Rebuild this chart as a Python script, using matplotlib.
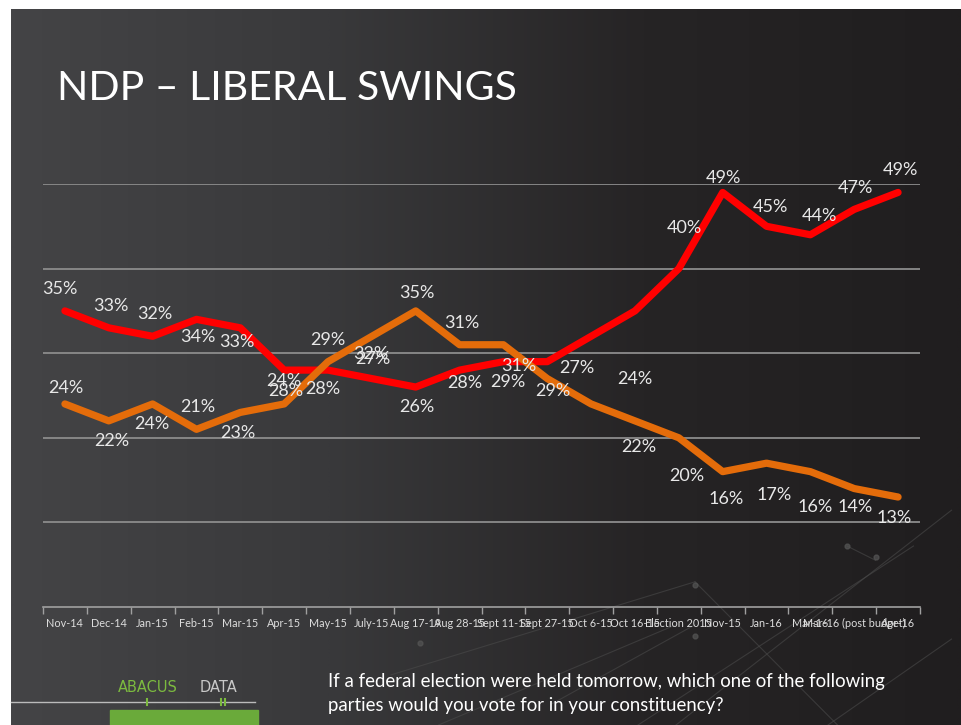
import numpy as np
import matplotlib.pyplot as plt
from matplotlib.colors import LinearSegmentedColormap

# data
categories = ['Nov-14', 'Dec-14', 'Jan-15', 'Feb-15', 'Mar-15', 'Apr-15', 'May-15',
              'July-15', 'Aug 17-19', 'Aug 28-15', 'Sept 11-15', 'Sept 27-15',
              'Oct 6-15', 'Oct 16-15', 'Election 2015', 'Nov-15', 'Jan-16',
              'Mar-16', 'Mar-16 (post budget)', 'Apr-16']
liberal = [35, 33, 32, 34, 33, 28, 28, 27, 26, 28, 29, 29, 32, 35, 40, 49, 45, 44, 47, 49]
ndp = [24, 22, 24, 21, 23, 24, 29, 32, 35, 31, 31, 27, 24, 22, 20, 16, 17, 16, 14, 13]

# label offsets in pixels (dx, dy upward), None = no label
lib_off = [(-5, 22), (2, 22), (2, 22), (1, -18), (-3, -14), (2, -21), (-5, -19),
           (1, 20), (1, -20), (5, -13), (4, -20), (6, -29), None, None,
           (6, 41), (1, 14), (4, 19), (9, 19), (1, 21), (2, 22)]
ndp_off = [(1, 16), (3, -20), (-1, -20), (1, 22), (-2, -21), (0, 23), (0, 22),
           (-1, -18), (1, 18), (2, 22), (15, -21), (30, 11), (44, 25), (4, -26),
           (8, -38), (3, -27), (8, -32), (5, -35), (1, -18), (-4, -21)]

W, H = 961, 725
fig = plt.figure(figsize=(W / 100, H / 100), dpi=100)
fig.patch.set_facecolor('white')

# slide background
bg = fig.add_axes([11 / W, 0, 1 - 11 / W, 1 - 9 / H])
bg.set_axis_off()
grad = np.linspace(0, 1, 400)[None, :] * np.ones((50, 1))
cmap = LinearSegmentedColormap.from_list('bg', ['#444446', '#39393b', '#262425', '#201e1f'])
bg.imshow(grad, cmap=cmap, aspect='auto', extent=[0, 1, 0, 1])
bg.set_xlim(0, 1)
bg.set_ylim(0, 1)
# faint network decoration
deco = [((0.66, 0.0), (0.95, 0.25)), ((0.70, 0.0), (0.99, 0.30)), ((0.86, 0.0), (0.99, 0.12)),
        ((0.40, 0.07), (0.72, 0.20)), ((0.72, 0.20), (0.87, 0.0)), ((0.57, 0.03), (0.72, 0.14)),
        ((0.88, 0.25), (0.91, 0.23)), ((0.45, 0.0), (0.70, 0.14))]
for (x0, y0), (x1, y1) in deco:
    bg.plot([x0, x1], [y0, y1], color='#4a4a4a', lw=0.8, alpha=0.6)
for px, py in [(0.88, 0.25), (0.91, 0.235), (0.72, 0.195), (0.72, 0.125), (0.43, 0.115)]:
    bg.plot(px, py, 'o', color='#555555', ms=3.5, alpha=0.7)

fig.text(57 / W, 1 - 89 / H, 'NDP \u2013 LIBERAL SWINGS', color='white',
         fontsize=29.5, family=['Liberation Sans Narrow', 'Lato'], va='center', ha='left')

ax = fig.add_axes([43 / W, 1 - 607 / H, (920 - 43) / W, (607 - 184) / H])
ax.set_facecolor('none')
x = np.arange(len(categories))
ax.set_xlim(-0.5, len(categories) - 0.5)
ax.set_ylim(0, 50)
ax.set_yticks([10, 20, 30, 40, 50])
ax.yaxis.grid(True, color='#8c8c8c', lw=1.3)
ax.set_axisbelow(True)
ax.tick_params(axis='y', left=False, labelleft=False)
for s in ['top', 'right', 'left']:
    ax.spines[s].set_visible(False)
ax.spines['bottom'].set_color('#a0a0a0')
ax.spines['bottom'].set_linewidth(1.2)

ax.set_xticks(x)
ax.set_xticklabels(categories, color='#dddddd', fontsize=7.8, family='Lato')
ax.set_xticks(np.arange(-0.5, len(categories)), minor=True)
ax.tick_params(axis='x', which='major', length=0, pad=8)
ax.tick_params(axis='x', which='minor', length=5, color='#a0a0a0', width=1)

ax.plot(x, liberal, color='#ff0000', lw=5.2, solid_joinstyle='round', solid_capstyle='round', zorder=3)
ax.plot(x, ndp, color='#e46c0a', lw=5.2, solid_joinstyle='round', solid_capstyle='round', zorder=3)

for vals, offs in [(liberal, lib_off), (ndp, ndp_off)]:
    for i, v in enumerate(vals):
        if offs[i] is None:
            continue
        ax.annotate(f'{v}%', (i, v), xytext=offs[i], textcoords='offset pixels',
                    ha='center', va='center', color='#e8e8e8', fontsize=13,
                    family='Lato', zorder=4)

# footer
fig.text(118 / W, 1 - 688 / H, 'ABACUS', color='#7cba3f', fontsize=10.5, family='DejaVu Sans',
         va='center', ha='left')
fig.text(200 / W, 1 - 688 / H, 'DATA', color='#c8c8c8', fontsize=10.5, family='DejaVu Sans',
         va='center', ha='left')
fig.add_artist(plt.Line2D([11 / W, 255 / W], [1 - 702 / H, 1 - 702 / H], color='#bbbbbb', lw=1))
fig.add_artist(plt.Line2D([147 / W, 147 / W], [1 - 705 / H, 1 - 699 / H], color='#7cba3f', lw=1.5))
fig.add_artist(plt.Line2D([221 / W, 221 / W], [1 - 705 / H, 1 - 699 / H], color='#7cba3f', lw=1.5))
fig.add_artist(plt.Line2D([225 / W, 225 / W], [1 - 705 / H, 1 - 699 / H], color='#7cba3f', lw=1.5))
fig.add_artist(plt.Rectangle((110 / W, 0), 148 / W, 15 / H, color='#6aaa3a'))

fig.text(328 / W, 1 - 682 / H, 'If a federal election were held tomorrow, which one of the following',
         color='white', fontsize=13.4, family=['Liberation Sans Narrow', 'Lato'], va='center')
fig.text(328 / W, 1 - 705 / H, 'parties would you vote for in your constituency?',
         color='white', fontsize=13.4, family=['Liberation Sans Narrow', 'Lato'], va='center')

fig.savefig('out.png', dpi=100, facecolor=fig.get_facecolor())
